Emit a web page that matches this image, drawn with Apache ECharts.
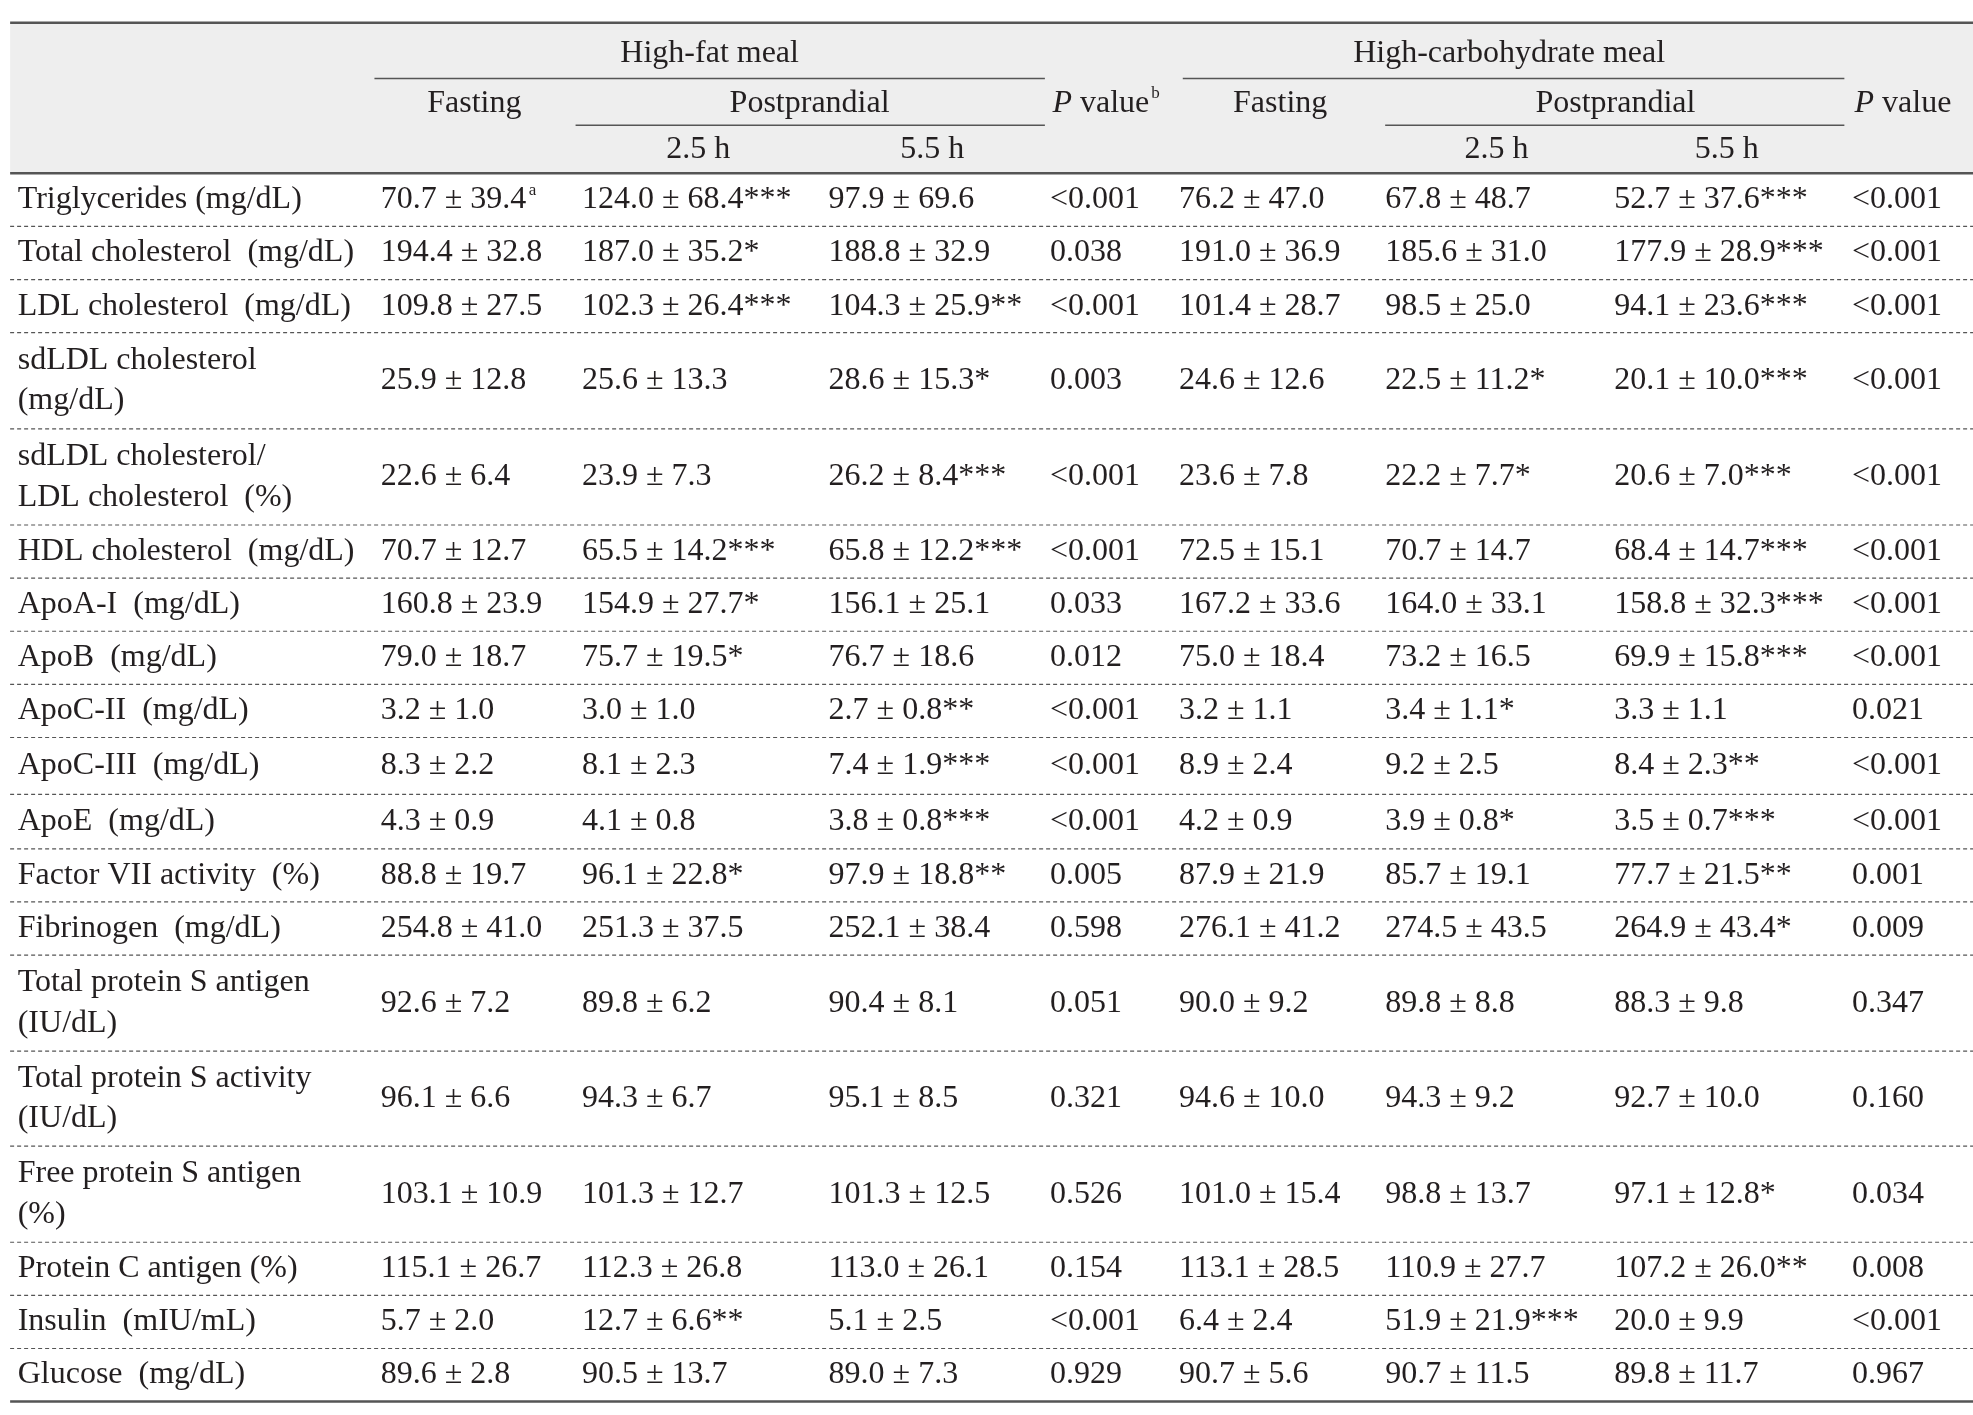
<!DOCTYPE html>
<html><head><meta charset="utf-8">
<script src="https://cdn.jsdelivr.net/npm/echarts@6/dist/echarts.min.js"></script>
<style>html,body{margin:0;padding:0;background:#fff}#c{width:1973px;height:1415px}</style>
</head><body><div id="c"></div>
<script>
// table content
const rowLabels = [
  "Triglycerides (mg/dL)", "Total cholesterol  (mg/dL)", "LDL cholesterol  (mg/dL)",
  "sdLDL cholesterol\n(mg/dL)", "sdLDL cholesterol/\nLDL cholesterol  (%)", "HDL cholesterol  (mg/dL)",
  "ApoA-I  (mg/dL)", "ApoB  (mg/dL)", "ApoC-II  (mg/dL)", "ApoC-III  (mg/dL)", "ApoE  (mg/dL)",
  "Factor VII activity  (%)", "Fibrinogen  (mg/dL)", "Total protein S antigen\n(IU/dL)",
  "Total protein S activity\n(IU/dL)", "Free protein S antigen\n(%)", "Protein C antigen (%)",
  "Insulin  (mIU/mL)", "Glucose  (mg/dL)"
];
const fatFasting = ["70.7 ± 39.4","194.4 ± 32.8","109.8 ± 27.5","25.9 ± 12.8","22.6 ± 6.4","70.7 ± 12.7","160.8 ± 23.9","79.0 ± 18.7","3.2 ± 1.0","8.3 ± 2.2","4.3 ± 0.9","88.8 ± 19.7","254.8 ± 41.0","92.6 ± 7.2","96.1 ± 6.6","103.1 ± 10.9","115.1 ± 26.7","5.7 ± 2.0","89.6 ± 2.8"];
const fat25 = ["124.0 ± 68.4***","187.0 ± 35.2*","102.3 ± 26.4***","25.6 ± 13.3","23.9 ± 7.3","65.5 ± 14.2***","154.9 ± 27.7*","75.7 ± 19.5*","3.0 ± 1.0","8.1 ± 2.3","4.1 ± 0.8","96.1 ± 22.8*","251.3 ± 37.5","89.8 ± 6.2","94.3 ± 6.7","101.3 ± 12.7","112.3 ± 26.8","12.7 ± 6.6**","90.5 ± 13.7"];
const fat55 = ["97.9 ± 69.6","188.8 ± 32.9","104.3 ± 25.9**","28.6 ± 15.3*","26.2 ± 8.4***","65.8 ± 12.2***","156.1 ± 25.1","76.7 ± 18.6","2.7 ± 0.8**","7.4 ± 1.9***","3.8 ± 0.8***","97.9 ± 18.8**","252.1 ± 38.4","90.4 ± 8.1","95.1 ± 8.5","101.3 ± 12.5","113.0 ± 26.1","5.1 ± 2.5","89.0 ± 7.3"];
const fatP = ["<0.001","0.038","<0.001","0.003","<0.001","<0.001","0.033","0.012","<0.001","<0.001","<0.001","0.005","0.598","0.051","0.321","0.526","0.154","<0.001","0.929"];
const carbFasting = ["76.2 ± 47.0","191.0 ± 36.9","101.4 ± 28.7","24.6 ± 12.6","23.6 ± 7.8","72.5 ± 15.1","167.2 ± 33.6","75.0 ± 18.4","3.2 ± 1.1","8.9 ± 2.4","4.2 ± 0.9","87.9 ± 21.9","276.1 ± 41.2","90.0 ± 9.2","94.6 ± 10.0","101.0 ± 15.4","113.1 ± 28.5","6.4 ± 2.4","90.7 ± 5.6"];
const carb25 = ["67.8 ± 48.7","185.6 ± 31.0","98.5 ± 25.0","22.5 ± 11.2*","22.2 ± 7.7*","70.7 ± 14.7","164.0 ± 33.1","73.2 ± 16.5","3.4 ± 1.1*","9.2 ± 2.5","3.9 ± 0.8*","85.7 ± 19.1","274.5 ± 43.5","89.8 ± 8.8","94.3 ± 9.2","98.8 ± 13.7","110.9 ± 27.7","51.9 ± 21.9***","90.7 ± 11.5"];
const carb55 = ["52.7 ± 37.6***","177.9 ± 28.9***","94.1 ± 23.6***","20.1 ± 10.0***","20.6 ± 7.0***","68.4 ± 14.7***","158.8 ± 32.3***","69.9 ± 15.8***","3.3 ± 1.1","8.4 ± 2.3**","3.5 ± 0.7***","77.7 ± 21.5**","264.9 ± 43.4*","88.3 ± 9.8","92.7 ± 10.0","97.1 ± 12.8*","107.2 ± 26.0**","20.0 ± 9.9","89.8 ± 11.7"];
const carbP = ["<0.001","<0.001","<0.001","<0.001","<0.001","<0.001","<0.001","<0.001","0.021","<0.001","<0.001","0.001","0.009","0.347","0.160","0.034","0.008","<0.001","0.967"];

const S = 1.265; // layout measured at 1560px width, scaled to 1973
const font = "Liberation Serif";
const fs = 32;
const bounds = [137,179,221,263,339,415,457,499,541,583,628,671,713,755,831,906,982,1024,1066,1108];
const colX = [301,460,655,830,932,1095,1276,1464];
const columns = [fatFasting, fat25, fat55, fatP, carbFasting, carb25, carb55, carbP];

const els = [];
function txt(x, y, s, align, extra) {
  els.push({ type: 'text', x: x * S, y: y * S, style: Object.assign({
    text: s, font: fs + 'px "' + font + '"', fill: '#231f20',
    textAlign: align || 'left', textVerticalAlign: 'middle', lineHeight: 32 * S
  }, extra || {}) });
}
function line(x1, y1, x2, y2, w, dash) {
  els.push({ type: 'line', shape: { x1: x1 * S, y1: y1 * S, x2: x2 * S, y2: y2 * S },
    style: { stroke: '#555', lineWidth: w, lineDash: dash || null } });
}
// header background
els.push({ type: 'rect', shape: { x: 8 * S, y: 18 * S, width: 1552 * S, height: 119 * S }, style: { fill: '#eeeeee' } });
line(8, 18, 1560, 18, 2.5);
line(8, 137, 1560, 137, 2.5);
line(8, 1108, 1560, 1108, 2.5);
line(296, 62, 826, 62, 1.6);
line(935, 62, 1458, 62, 1.6);
line(455, 99, 826, 99, 1.6);
line(1095, 99, 1458, 99, 1.6);

txt(561, 42, "High-fat meal", 'center');
txt(1193, 42, "High-carbohydrate meal", 'center');
txt(375, 82, "Fasting", 'center');
txt(640, 82, "Postprandial", 'center');
txt(1012, 82, "Fasting", 'center');
txt(1277, 82, "Postprandial", 'center');
txt(552, 118, "2.5 h", 'center');
txt(737, 118, "5.5 h", 'center');
txt(1183, 118, "2.5 h", 'center');
txt(1365, 118, "5.5 h", 'center');
const rich = { i: { fontStyle: 'italic', fontSize: fs, fontFamily: font, fill: '#231f20' } };
els.push({ type: 'text', x: 832 * S, y: 82 * S, style: { text: '{i|P} value', textVerticalAlign: 'middle',
  font: fs + 'px "' + font + '"', fill: '#231f20', rich: rich } });
txt(910, 74, "b", 'left', { font: '17px "' + font + '"' });
els.push({ type: 'text', x: 1466 * S, y: 82 * S, style: { text: '{i|P} value', textVerticalAlign: 'middle',
  font: fs + 'px "' + font + '"', fill: '#231f20', rich: rich } });

rowLabels.forEach((lab, i) => {
  const yc = (bounds[i] + bounds[i + 1]) / 2;
  txt(14, yc, lab, 'left');
  columns.forEach((col, j) => txt(colX[j], yc, col[i], 'left'));
  if (i < rowLabels.length - 1) line(8, bounds[i + 1], 1560, bounds[i + 1], 1.2, [4, 3]);
});
txt(418, 151, "a", 'left', { font: '17px "' + font + '"' });

const chart = echarts.init(document.getElementById('c'));
chart.setOption({ animation: false, graphic: { elements: els } });
</script></body></html>
